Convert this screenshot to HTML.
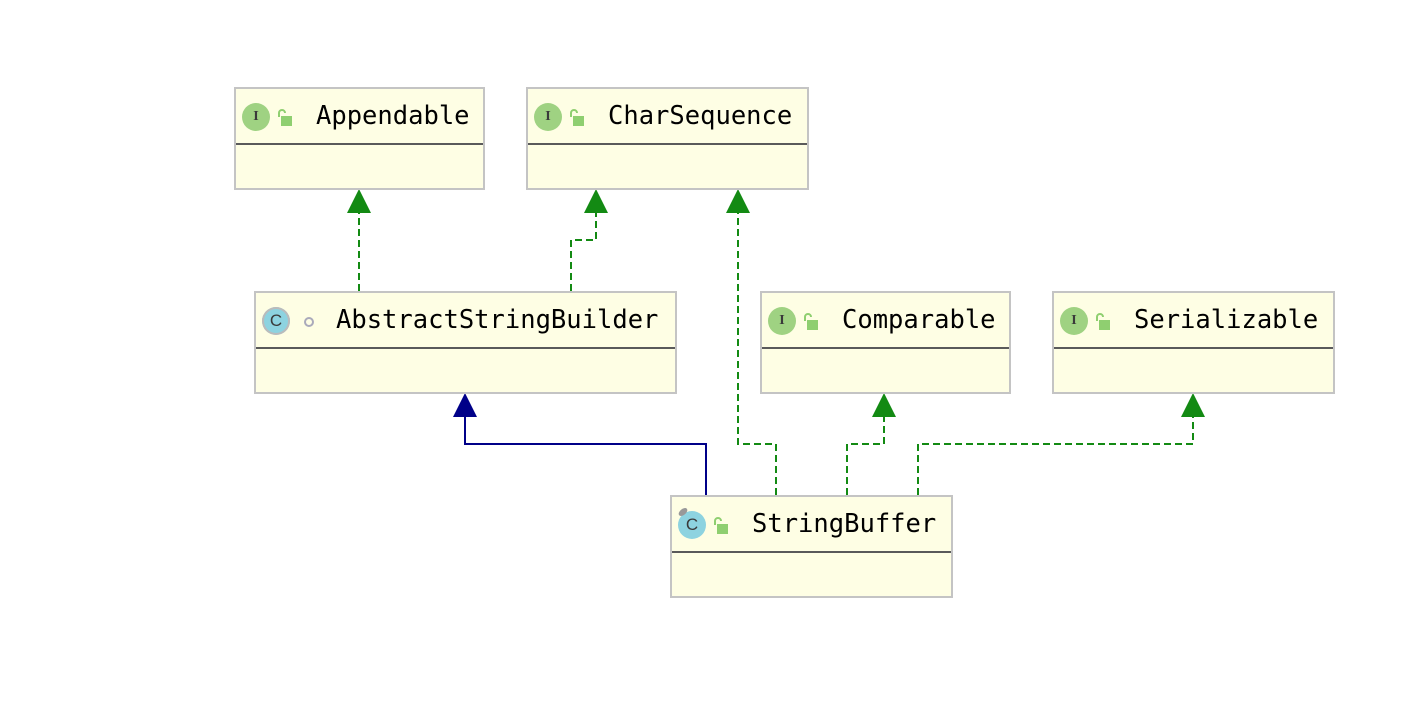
<!DOCTYPE html>
<html><head><style>
body{margin:0;width:1412px;height:702px;background:#fff;position:relative;overflow:hidden;font-family:"DejaVu Sans Mono","Liberation Mono",monospace;}
.b{position:absolute;background:#fefee4;border:2px solid #c4c4c4;box-sizing:border-box;height:103px;}
.b .sep{position:absolute;left:0;right:0;top:54px;height:2px;background:#5a5a5a;}
.b .t{position:absolute;top:12px;font-size:25.5px;color:#000;white-space:nowrap;}
.ic{position:absolute;top:14px;left:6px;width:28px;height:28px;border-radius:50%;background:#9fd282;color:#3a3a3a;font-size:14px;text-align:center;line-height:28px;font-family:"Liberation Serif",serif;font-weight:bold;}
.cc{background:#8dd3e0;font-family:"Liberation Sans",sans-serif;font-size:17px;font-weight:normal;}
.lk{position:absolute;top:19px;left:41px;width:15px;height:18px;}
</style></head><body>
<svg width="1412" height="702" style="position:absolute;left:0;top:0">
<g fill="none" stroke="#138a13" stroke-width="2" stroke-dasharray="7,4">
<path d="M359 291V205"/>
<path d="M571 291V240H596V205"/>
<path d="M776 495V444H738V205"/>
<path d="M847 495V444H884V409"/>
<path d="M918 495V444H1193V409"/>
</g>
<path d="M706 495V444H465V409" fill="none" stroke="#000088" stroke-width="2"/>
<g fill="#138a13">
<polygon points="359,189 347,213 371,213"/>
<polygon points="596,189 584,213 608,213"/>
<polygon points="738,189 726,213 750,213"/>
<polygon points="884,393 872,417 896,417"/>
<polygon points="1193,393 1181,417 1205,417"/>
</g>
<polygon points="465,393 453,417 477,417" fill="#000088"/>
</svg>
<div class="b" style="left:234px;top:87px;width:251px"><div class="ic">I</div><svg class="lk" viewBox="0 0 15 18"><path d="M2 9V5a3 3 0 0 1 6 0" fill="none" stroke="#8fcf70" stroke-width="2"/><rect x="4" y="8" width="11" height="10" fill="#8fcf70"/></svg><div class="t" style="left:80px">Appendable</div><div class="sep"></div></div>
<div class="b" style="left:526px;top:87px;width:283px"><div class="ic">I</div><svg class="lk" viewBox="0 0 15 18"><path d="M2 9V5a3 3 0 0 1 6 0" fill="none" stroke="#8fcf70" stroke-width="2"/><rect x="4" y="8" width="11" height="10" fill="#8fcf70"/></svg><div class="t" style="left:80px">CharSequence</div><div class="sep"></div></div>
<div class="b" style="left:254px;top:291px;width:423px"><div class="ic cc" style="box-shadow:0 0 0 2px #bbb inset">C</div><div style="position:absolute;left:48px;top:24px;width:6px;height:6px;border:2px solid #aab;border-radius:50%"></div><div class="t" style="left:80px">AbstractStringBuilder</div><div class="sep"></div></div>
<div class="b" style="left:760px;top:291px;width:251px"><div class="ic">I</div><svg class="lk" viewBox="0 0 15 18"><path d="M2 9V5a3 3 0 0 1 6 0" fill="none" stroke="#8fcf70" stroke-width="2"/><rect x="4" y="8" width="11" height="10" fill="#8fcf70"/></svg><div class="t" style="left:80px">Comparable</div><div class="sep"></div></div>
<div class="b" style="left:1052px;top:291px;width:283px"><div class="ic">I</div><svg class="lk" viewBox="0 0 15 18"><path d="M2 9V5a3 3 0 0 1 6 0" fill="none" stroke="#8fcf70" stroke-width="2"/><rect x="4" y="8" width="11" height="10" fill="#8fcf70"/></svg><div class="t" style="left:80px">Serializable</div><div class="sep"></div></div>
<div class="b" style="left:670px;top:495px;width:283px"><div class="ic cc">C</div><div style="position:absolute;left:6px;top:12px;width:10px;height:6px;background:#999;border-radius:50%;transform:rotate(-40deg)"></div><svg class="lk" viewBox="0 0 15 18"><path d="M2 9V5a3 3 0 0 1 6 0" fill="none" stroke="#8fcf70" stroke-width="2"/><rect x="4" y="8" width="11" height="10" fill="#8fcf70"/></svg><div class="t" style="left:80px">StringBuffer</div><div class="sep"></div></div>
</body></html>
